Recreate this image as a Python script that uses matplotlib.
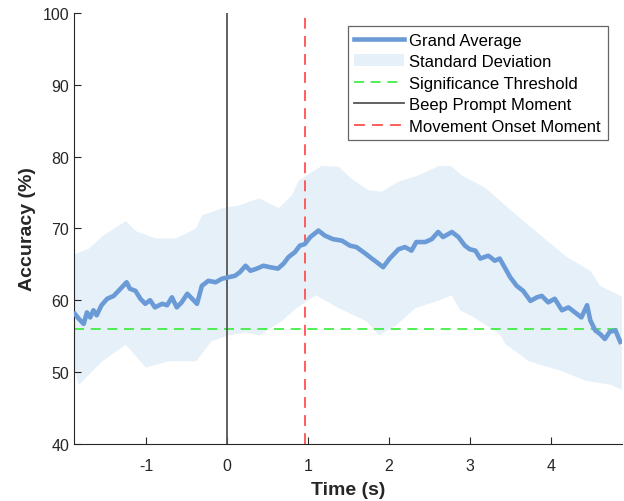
import matplotlib.pyplot as plt

plt.rcParams['font.family'] = ['Liberation Sans', 'DejaVu Sans']
plt.rcParams['axes.unicode_minus'] = False

# grand average (time in s, accuracy in %)
avg_time = [-1.88, -1.83, -1.77, -1.73, -1.69, -1.65, -1.61, -1.55, -1.48, -1.40,
            -1.34, -1.24, -1.20, -1.13, -1.07, -1.01, -0.95, -0.89, -0.80, -0.74,
            -0.68, -0.62, -0.56, -0.49, -0.43, -0.37, -0.31, -0.23, -0.14, -0.06,
            0.02, 0.10, 0.16, 0.23, 0.29, 0.37, 0.45, 0.53, 0.63, 0.70,
            0.76, 0.84, 0.90, 0.96, 1.03, 1.13, 1.21, 1.31, 1.42, 1.52,
            1.60, 1.71, 1.79, 1.85, 1.93, 2.01, 2.12, 2.20, 2.28, 2.34,
            2.45, 2.53, 2.61, 2.67, 2.78, 2.86, 2.94, 3.00, 3.07, 3.13,
            3.23, 3.31, 3.37, 3.44, 3.50, 3.58, 3.66, 3.75, 3.83, 3.89,
            3.97, 4.05, 4.14, 4.22, 4.30, 4.38, 4.45, 4.49, 4.55, 4.61,
            4.67, 4.73, 4.80, 4.86]
avg_acc = [58.1, 57.4, 56.7, 58.3, 57.6, 58.6, 57.9, 59.3, 60.2, 60.6,
           61.3, 62.5, 61.6, 61.3, 60.2, 59.5, 60.0, 59.0, 59.5, 59.3,
           60.4, 59.0, 59.7, 60.9, 60.2, 59.5, 62.0, 62.7, 62.5, 63.0,
           63.2, 63.4, 63.9, 64.8, 64.1, 64.4, 64.8, 64.6, 64.4, 65.1,
           66.0, 66.7, 67.6, 67.8, 68.8, 69.7, 69.0, 68.5, 68.3, 67.6,
           67.4, 66.5, 65.8, 65.3, 64.6, 65.8, 67.1, 67.4, 66.9, 68.1,
           68.1, 68.5, 69.5, 68.8, 69.5, 68.8, 67.6, 67.1, 66.9, 65.8,
           66.2, 65.5, 65.8, 64.4, 63.2, 62.0, 61.3, 59.9, 60.4, 60.6,
           59.7, 60.2, 58.6, 59.0, 58.3, 57.6, 59.3, 57.2, 55.8, 55.3,
           54.6, 55.6, 55.8, 54.2]

# standard deviation band edges
upper_time = [-1.90, -1.70, -1.54, -1.25, -1.12, -0.88, -0.63, -0.38, -0.31, -0.06,
              0.15, 0.40, 0.64, 0.80, 0.89, 1.17, 1.38, 1.54, 1.75, 1.91,
              2.12, 2.37, 2.62, 2.77, 2.90, 3.20, 3.48, 3.73, 4.20, 4.49,
              4.61, 4.88]
upper_acc = [66.3, 67.2, 68.9, 71.0, 69.6, 68.6, 68.6, 70.0, 71.8, 72.8,
             73.2, 74.2, 72.8, 74.6, 76.7, 78.7, 78.6, 76.9, 75.3, 75.1,
             76.5, 77.4, 78.7, 78.7, 77.4, 75.6, 72.8, 70.4, 66.0, 64.1,
             62.0, 60.5]
lower_time = [-1.90, -1.83, -1.54, -1.25, -1.00, -0.72, -0.38, -0.19, 0.02, 0.23,
              0.40, 0.68, 0.86, 1.10, 1.38, 1.72, 1.88, 2.09, 2.33, 2.63,
              2.78, 2.88, 3.04, 3.37, 3.44, 3.73, 4.14, 4.43, 4.75, 4.88]
lower_acc = [51.0, 48.2, 51.5, 53.8, 50.6, 51.5, 51.5, 54.3, 55.1, 55.5,
             55.1, 57.1, 58.9, 60.7, 58.9, 57.1, 55.1, 56.5, 58.9, 60.0,
             60.7, 58.6, 57.7, 55.3, 53.9, 51.5, 50.1, 48.8, 48.2, 47.5]

threshold = 56
beep_time = 0
onset_time = 0.96

fig = plt.figure(figsize=(6.24, 5.02), dpi=100)
ax = fig.add_axes([0.1186, 0.114, 0.878, 0.858])

band_x = upper_time + lower_time[::-1]
band_y = upper_acc + lower_acc[::-1]
ax.fill(band_x, band_y, color='#e6f0f9', linewidth=0, label='Standard Deviation', zorder=1)
ax.plot(avg_time, avg_acc, color='#6a9bd6', linewidth=3.3, label='Grand Average', zorder=3)
ax.axhline(threshold, color='#33ee33', linestyle=(0, (6, 4)), linewidth=1.2,
           label='Significance Threshold', zorder=2)
ax.axvline(beep_time, color='#555555', linewidth=1.3, label='Beep Prompt Moment', zorder=2)
ax.axvline(onset_time, color='#ff5050', linestyle=(0, (6, 4)), linewidth=1.3,
           label='Movement Onset Moment', zorder=2)

ax.set_xlim(-1.89, 4.88)
ax.set_ylim(40, 100)
ax.set_xticks([-1, 0, 1, 2, 3, 4])
ax.set_yticks([40, 50, 60, 70, 80, 90, 100])
ax.tick_params(direction='in', labelsize=11.5, colors='#262626', length=5)
ax.tick_params(axis='x', pad=10)
for side in ['top', 'right']:
    ax.spines[side].set_visible(False)
for side in ['left', 'bottom']:
    ax.spines[side].set_color('#262626')

ax.set_xlabel('Time (s)', fontsize=14, fontweight='bold', color='#262626', labelpad=6)
ax.set_ylabel('Accuracy (%)', fontsize=14, fontweight='bold', color='#262626', labelpad=5)

handles, labels = ax.get_legend_handles_labels()
order = [1, 0, 2, 3, 4]
leg = ax.legend([handles[i] for i in order], [labels[i] for i in order],
                loc='upper right', bbox_to_anchor=(0.974, 0.97), borderaxespad=0,
                fontsize=12, handlelength=3.0, fancybox=False, framealpha=1,
                edgecolor='#666666', borderpad=0.4, labelspacing=0.39,
                handletextpad=0.3)
leg.get_frame().set_linewidth(0.9)

fig.savefig('out.png', dpi=100)
